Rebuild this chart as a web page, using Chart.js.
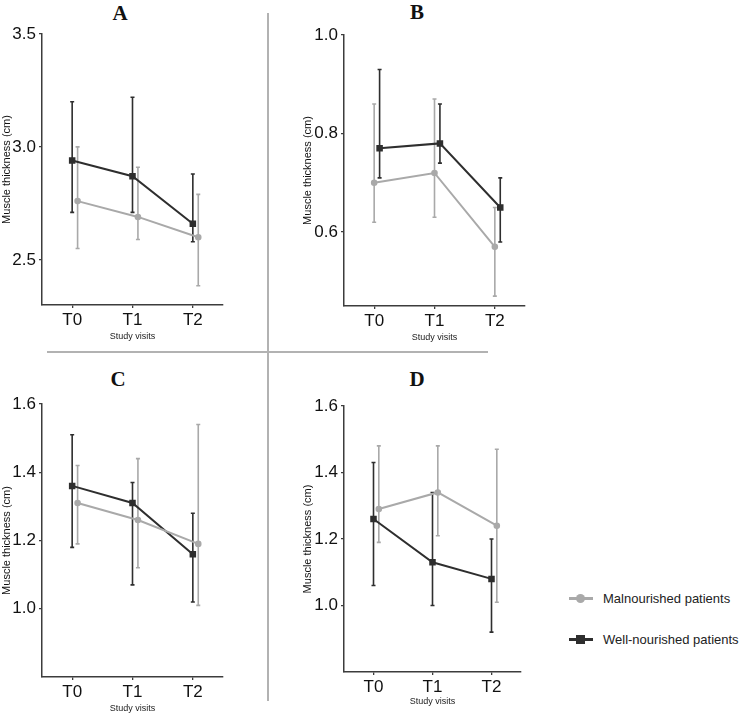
<!DOCTYPE html>
<html>
<head>
<meta charset="utf-8">
<script src="https://cdn.jsdelivr.net/npm/chart.js@4.4.1/dist/chart.umd.min.js"></script>
<style>
  body { margin: 0; background: #fff; }
  #page { position: relative; width: 749px; height: 714px; overflow: hidden; background: #fff;
          font-family: "Liberation Sans", Arial, sans-serif; }
  #page canvas { position: absolute; }
  .tag { position: absolute; transform: translate(-50%, -50%); color: #111; line-height: 1;
         font-family: "Liberation Serif", "Times New Roman", serif; font-weight: bold; font-size: 21px; }
  .rule { position: absolute; background: #b2b2b2; }
  .key { position: absolute; left: 569px; height: 14px; display: flex; align-items: center;
         transform: translateY(-50%); font-size: 13px; color: #222; }
  .sym { position: relative; width: 24px; height: 12px; margin-right: 10px; }
  .sym .ln { position: absolute; left: 0; right: 0; top: 5px; height: 3px; }
  .sym .mk { position: absolute; left: 7px; top: 2px; width: 9px; height: 9px; }
</style>
</head>
<body>
<div id="page">
  <div class="rule" style="left:267px;top:13px;width:2px;height:688px"></div>
  <div class="rule" style="left:47px;top:351px;width:441px;height:2px"></div>

  <div class="tag" style="left:120px;top:13px">A</div>
  <div class="tag" style="left:417px;top:12px">B</div>
  <div class="tag" style="left:118px;top:379px">C</div>
  <div class="tag" style="left:417px;top:379px">D</div>

  <canvas id="chart-a" width="262" height="342" style="left:0;top:0"></canvas>
  <canvas id="chart-b" width="262" height="343" style="left:270px;top:0"></canvas>
  <canvas id="chart-c" width="262" height="374" style="left:0;top:340px"></canvas>
  <canvas id="chart-d" width="262" height="367" style="left:270px;top:340px"></canvas>

  <div class="key" style="top:598px">
    <span class="sym"><i class="ln" style="background:#a9a9a9"></i><i class="mk" style="background:#a9a9a9;border-radius:50%"></i></span>Malnourished patients
  </div>
  <div class="key" style="top:639px">
    <span class="sym"><i class="ln" style="background:#2e2e2e"></i><i class="mk" style="background:#2e2e2e"></i></span>Well-nourished patients
  </div>
</div>

<script>
const VISITS = ['T0', 'T1', 'T2'];

// Panel A
const A_MAL = [2.76, 2.69, 2.60];
const A_MAL_LO = [2.55, 2.59, 2.385];
const A_MAL_HI = [3.00, 2.91, 2.79];
const A_WELL = [2.94, 2.87, 2.66];
const A_WELL_LO = [2.71, 2.71, 2.58];
const A_WELL_HI = [3.20, 3.22, 2.88];
const A_TICKS = [2.5, 3.0, 3.5];

// Panel B
const B_MAL = [0.70, 0.72, 0.57];
const B_MAL_LO = [0.62, 0.63, 0.47];
const B_MAL_HI = [0.86, 0.87, 0.65];
const B_WELL = [0.77, 0.78, 0.65];
const B_WELL_LO = [0.71, 0.74, 0.58];
const B_WELL_HI = [0.93, 0.86, 0.71];
const B_TICKS = [0.6, 0.8, 1.0];

// Panel C
const C_MAL = [1.31, 1.26, 1.19];
const C_MAL_LO = [1.19, 1.12, 1.01];
const C_MAL_HI = [1.42, 1.44, 1.54];
const C_WELL = [1.36, 1.31, 1.16];
const C_WELL_LO = [1.18, 1.07, 1.02];
const C_WELL_HI = [1.51, 1.37, 1.28];
const C_TICKS = [1.0, 1.2, 1.4, 1.6];

// Panel D
const D_MAL = [1.29, 1.34, 1.24];
const D_MAL_LO = [1.19, 1.21, 1.01];
const D_MAL_HI = [1.48, 1.48, 1.47];
const D_WELL = [1.26, 1.13, 1.08];
const D_WELL_LO = [1.06, 1.00, 0.92];
const D_WELL_HI = [1.43, 1.34, 1.20];
const D_TICKS = [1.0, 1.2, 1.4, 1.6];

const MAL_COLOR = '#a9a9a9';
const WELL_COLOR = '#2e2e2e';
const AXIS_COLOR = '#3c3c3c';

const errorBarPlugin = {
  id: 'errorBars',
  beforeDatasetsDraw(chart) {
    const { ctx, scales } = chart;
    chart.data.datasets.forEach((ds, i) => {
      const meta = chart.getDatasetMeta(i);
      if (!ds.errLow || meta.hidden) return;
      ctx.save();
      ctx.strokeStyle = ds.borderColor;
      ctx.lineWidth = 1.6;
      meta.data.forEach((pt, j) => {
        const yLo = scales.y.getPixelForValue(ds.errLow[j]);
        const yHi = scales.y.getPixelForValue(ds.errHigh[j]);
        ctx.beginPath();
        ctx.moveTo(pt.x, yLo);
        ctx.lineTo(pt.x, yHi);
        ctx.moveTo(pt.x - 2, yLo);
        ctx.lineTo(pt.x + 2, yLo);
        ctx.moveTo(pt.x - 2, yHi);
        ctx.lineTo(pt.x + 2, yHi);
        ctx.stroke();
      });
      ctx.restore();
    });
  }
};

function toPoints(values, shift) {
  return values.map((v, i) => ({ x: i + shift, y: v }));
}

function makePanel(canvasId, layout, series) {
  const tickFont = { family: '"Liberation Sans", Arial, sans-serif', size: 17 };
  const axisGrid = { display: true, drawOnChartArea: false, drawTicks: true, tickLength: 3, color: AXIS_COLOR, lineWidth: 1.3 };
  const axisBorder = { display: true, color: AXIS_COLOR, width: 1.5 };
  return new Chart(document.getElementById(canvasId), {
    type: 'line',
    data: {
      datasets: [
        {
          label: 'Malnourished patients',
          data: toPoints(series.mal, series.malShift),
          errLow: series.malLo,
          errHigh: series.malHi,
          borderColor: MAL_COLOR,
          backgroundColor: MAL_COLOR,
          borderWidth: 2,
          pointStyle: 'circle',
          pointRadius: 2.3,
          tension: 0
        },
        {
          label: 'Well-nourished patients',
          data: toPoints(series.well, series.wellShift),
          errLow: series.wellLo,
          errHigh: series.wellHi,
          borderColor: WELL_COLOR,
          backgroundColor: WELL_COLOR,
          borderWidth: 2,
          pointStyle: 'rect',
          pointRadius: 3.2,
          tension: 0
        }
      ]
    },
    options: {
      responsive: false,
      animation: false,
      layout: { padding: { top: layout.padTop, left: layout.padLeft, right: layout.padRight, bottom: 0 } },
      plugins: { legend: { display: false }, tooltip: { enabled: false } },
      scales: {
        x: {
          type: 'linear',
          min: -0.5,
          max: 2.5,
          afterBuildTicks: (scale) => { scale.ticks = VISITS.map((v, i) => ({ value: i })); },
          afterFit: (scale) => { scale.height = layout.xHeight; },
          ticks: { font: tickFont, color: '#111', padding: 2, callback: (v) => VISITS[v] ?? '' },
          grid: axisGrid,
          border: axisBorder,
          title: { display: true, text: 'Study visits', color: '#222', padding: 0,
                   font: { family: '"Liberation Sans", Arial, sans-serif', size: 9 } }
        },
        y: {
          min: series.yMin,
          max: series.yMax,
          afterBuildTicks: (scale) => { scale.ticks = series.ticks.map((v) => ({ value: v })); },
          afterFit: (scale) => { scale.width = layout.yWidth; },
          ticks: { font: tickFont, color: '#111', padding: 3, callback: (v) => Number(v).toFixed(1) },
          grid: axisGrid,
          border: axisBorder,
          title: { display: true, text: 'Muscle thickness (cm)', color: '#111', padding: 0,
                   font: { family: '"Liberation Sans", Arial, sans-serif', size: 11 } }
        }
      }
    },
    plugins: [errorBarPlugin]
  });
}

makePanel('chart-a',
  { padTop: 34, padLeft: 0, padRight: 39, yWidth: 42, xHeight: 37 },
  { mal: A_MAL, malLo: A_MAL_LO, malHi: A_MAL_HI, malShift: 0.09,
    well: A_WELL, wellLo: A_WELL_LO, wellHi: A_WELL_HI, wellShift: 0,
    yMin: 2.3, yMax: 3.5, ticks: A_TICKS });

makePanel('chart-b',
  { padTop: 35, padLeft: 31, padRight: 7, yWidth: 43, xHeight: 37 },
  { mal: B_MAL, malLo: B_MAL_LO, malHi: B_MAL_HI, malShift: 0,
    well: B_WELL, wellLo: B_WELL_LO, wellHi: B_WELL_HI, wellShift: 0.09,
    yMin: 0.45, yMax: 1.0, ticks: B_TICKS });

makePanel('chart-c',
  { padTop: 64, padLeft: 0, padRight: 39, yWidth: 42, xHeight: 37 },
  { mal: C_MAL, malLo: C_MAL_LO, malHi: C_MAL_HI, malShift: 0.09,
    well: C_WELL, wellLo: C_WELL_LO, wellHi: C_WELL_HI, wellShift: 0,
    yMin: 0.8, yMax: 1.6, ticks: C_TICKS });

makePanel('chart-d',
  { padTop: 66, padLeft: 31, padRight: 11, yWidth: 43, xHeight: 35 },
  { mal: D_MAL, malLo: D_MAL_LO, malHi: D_MAL_HI, malShift: 0.09,
    well: D_WELL, wellLo: D_WELL_LO, wellHi: D_WELL_HI, wellShift: 0,
    yMin: 0.8, yMax: 1.6, ticks: D_TICKS });
</script>
</body>
</html>
